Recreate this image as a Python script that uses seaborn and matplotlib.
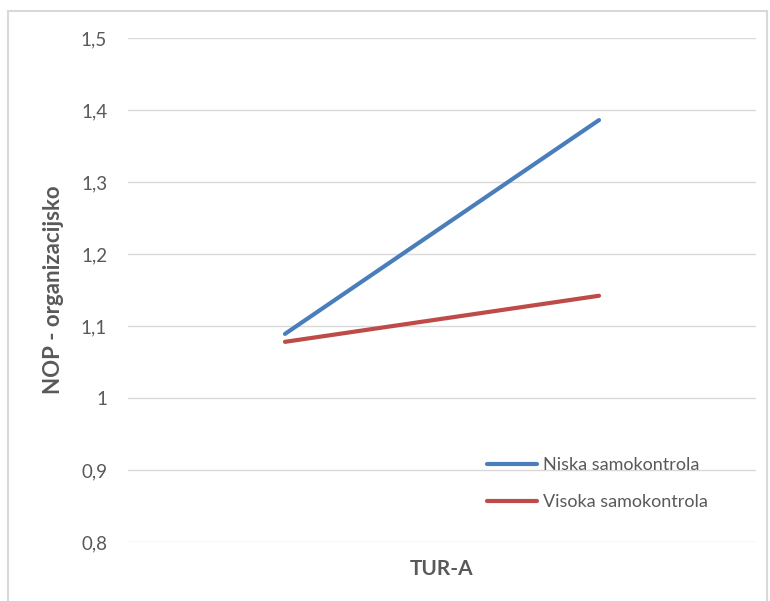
import pandas as pd
import matplotlib
matplotlib.use('Agg')
import matplotlib.pyplot as plt
from matplotlib.patches import Rectangle
import seaborn as sns

# Data
x_levels = [0, 1]  # low / high TUR-A
niska = [1.089, 1.386]
visoka = [1.078, 1.142]
series_names = ['Niska samokontrola', 'Visoka samokontrola']
y_ticks = [0.8, 0.9, 1.0, 1.1, 1.2, 1.3, 1.4, 1.5]
y_tick_labels = ['0,8', '0,9', '1', '1,1', '1,2', '1,3', '1,4', '1,5']

df = pd.DataFrame({
    'x': x_levels * 2,
    'y': niska + visoka,
    'grupa': [series_names[0]] * 2 + [series_names[1]] * 2,
})

sns.set_style('white')
plt.rcParams['font.family'] = ['Lato', 'DejaVu Sans']

fig = plt.figure(figsize=(7.7, 6.01), dpi=100)
ax = fig.add_axes([128 / 770, 1 - 542 / 601, 628 / 770, 504 / 601])

palette = {series_names[0]: '#4A7EBB', series_names[1]: '#BE4B48'}
sns.lineplot(data=df, x='x', y='y', hue='grupa', palette=palette,
             linewidth=3, solid_capstyle='round', ax=ax, legend=True)

ax.set_xlim(-0.5, 1.5)
ax.set_ylim(0.8, 1.5)
ax.set_yticks(y_ticks)
ax.set_yticklabels(y_tick_labels)
ax.set_xticks([])
ax.tick_params(axis='y', length=0, pad=15, labelsize=13.5, labelcolor='#595959')
ax.yaxis.grid(True, color='#D9D9D9', linewidth=1)
ax.set_axisbelow(True)
for s in ax.spines.values():
    s.set_visible(False)

ax.set_ylabel('NOP - organizacijsko', fontsize=16, fontweight='bold',
              color='#595959', labelpad=12)
ax.set_xlabel('TUR-A', fontsize=15, fontweight='bold', color='#595959',
              labelpad=12)

leg = ax.legend(loc='upper left', bbox_to_anchor=(0.545, 0.2), frameon=False,
                fontsize=13, handlelength=2.8, handletextpad=0.35,
                labelspacing=1.15)
for t in leg.get_texts():
    t.set_color('#595959')

# outer chart border
fig.patches.append(Rectangle((8 / 770, -0.01), 759 / 770, 1 - 11 / 601 + 0.01,
                             transform=fig.transFigure, fill=False,
                             edgecolor='#D9D9D9', linewidth=1.5))

fig.savefig('out.png', dpi=100)
